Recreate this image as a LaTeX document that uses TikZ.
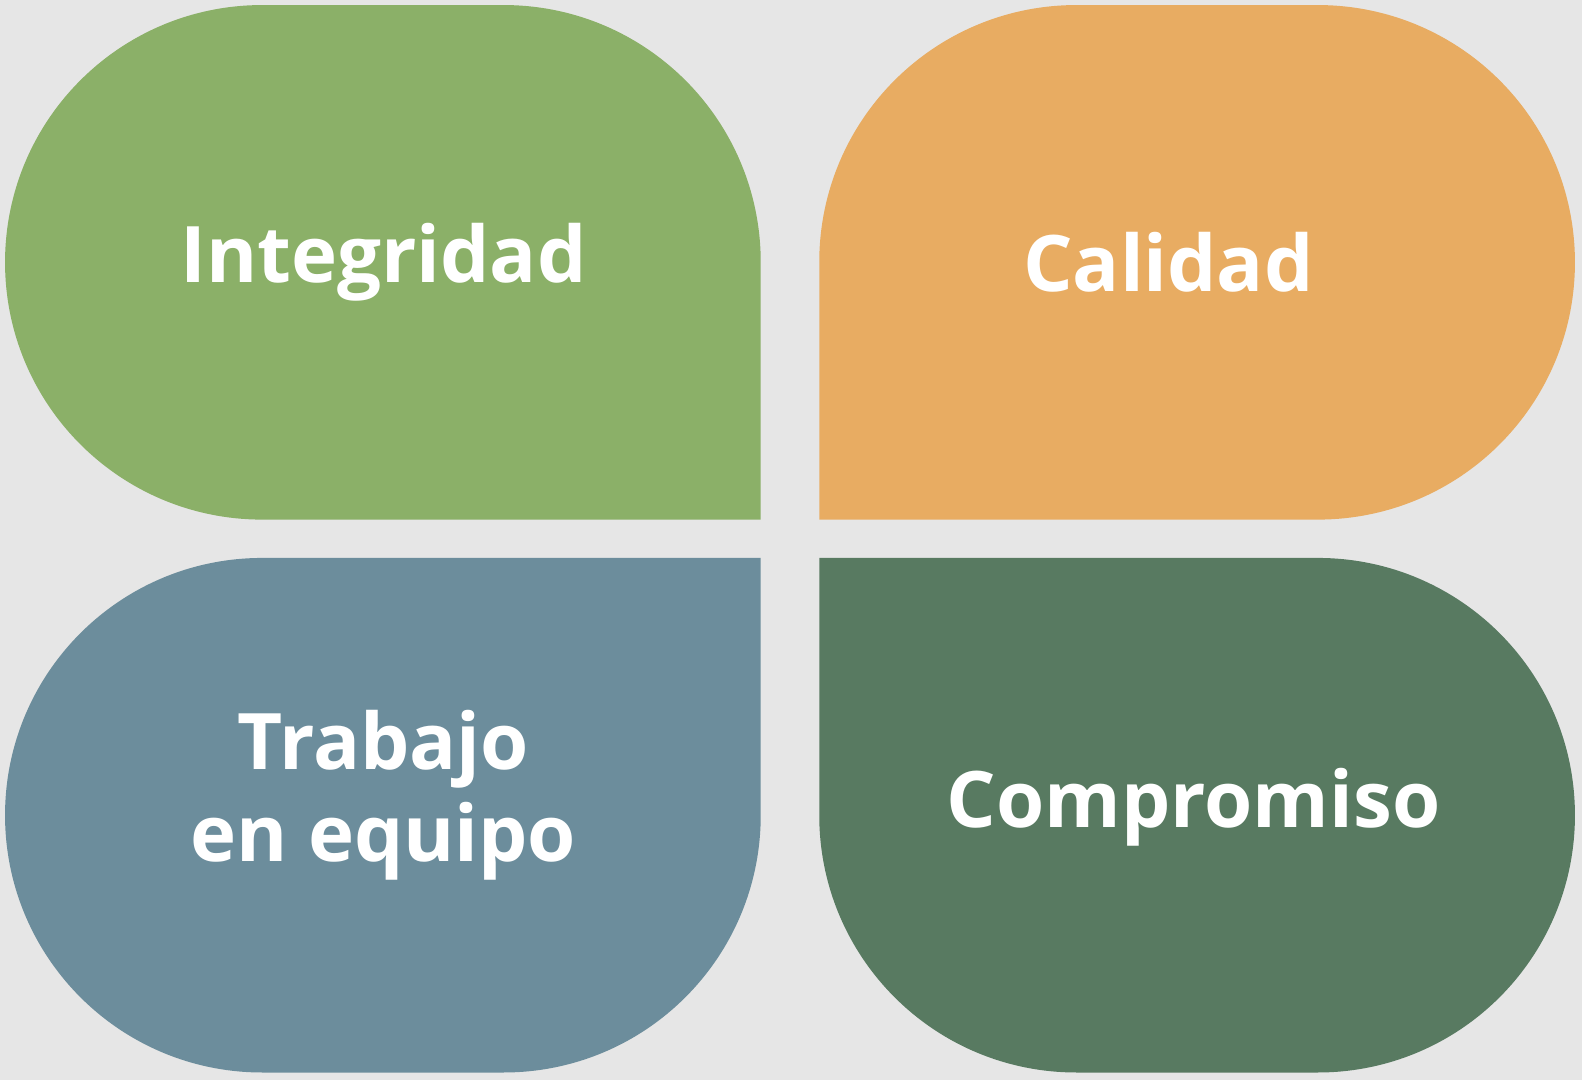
\documentclass[tikz,border=0pt]{standalone}
\usepackage{fontspec}
\setmainfont{Open Sans}
\definecolor{bg}{HTML}{E6E6E6}
\definecolor{cg}{HTML}{8BB068}
\definecolor{co}{HTML}{E8AC62}
\definecolor{cb}{HTML}{6C8D9C}
\definecolor{cd}{HTML}{587A61}
\tikzset{lbl/.style={text=white,font=\fontsize{78}{92}\selectfont\bfseries,align=center}}
\begin{document}
\begin{tikzpicture}[x=1.009pt,y=-1.009pt]
\fill[bg] (0,0) rectangle (1568,1070);
\useasboundingbox (0,0) rectangle (1568,1070);
% green: TL,TR,BL round
\fill[cg] (5,260) .. controls (5,119) and (119,5) .. (260,5) -- (499,5)
  .. controls (640,5) and (754,119) .. (754,260) -- (754,515) -- (260,515)
  .. controls (119,515) and (5,401) .. (5,260) -- cycle;
% orange: TL,TR,BR round
\fill[co] (812,260) .. controls (812,119) and (926,5) .. (1067,5) -- (1306,5)
  .. controls (1447,5) and (1561,119) .. (1561,260)
  .. controls (1561,401) and (1447,515) .. (1306,515) -- (812,515) -- cycle;
% blue: TL,BL,BR round
\fill[cb] (5,808) .. controls (5,667) and (119,553) .. (260,553) -- (754,553) -- (754,808)
  .. controls (754,949) and (640,1063) .. (499,1063) -- (260,1063)
  .. controls (119,1063) and (5,949) .. (5,808) -- cycle;
% dark green: TR,BR,BL round
\fill[cd] (812,553) -- (1306,553) .. controls (1447,553) and (1561,667) .. (1561,808)
  .. controls (1561,949) and (1447,1063) .. (1306,1063) -- (1067,1063)
  .. controls (926,1063) and (812,949) .. (812,808) -- cycle;
\node[lbl] (t1) at (380,260) {Integridad};
\node[lbl] (t2) at (1158,260) {Calidad};
\node[lbl] (t3) at (380,788) {Trabajo\\en equipo};
\node[lbl] (t4) at (1183,800) {Compromiso};
\end{tikzpicture}
\end{document}
